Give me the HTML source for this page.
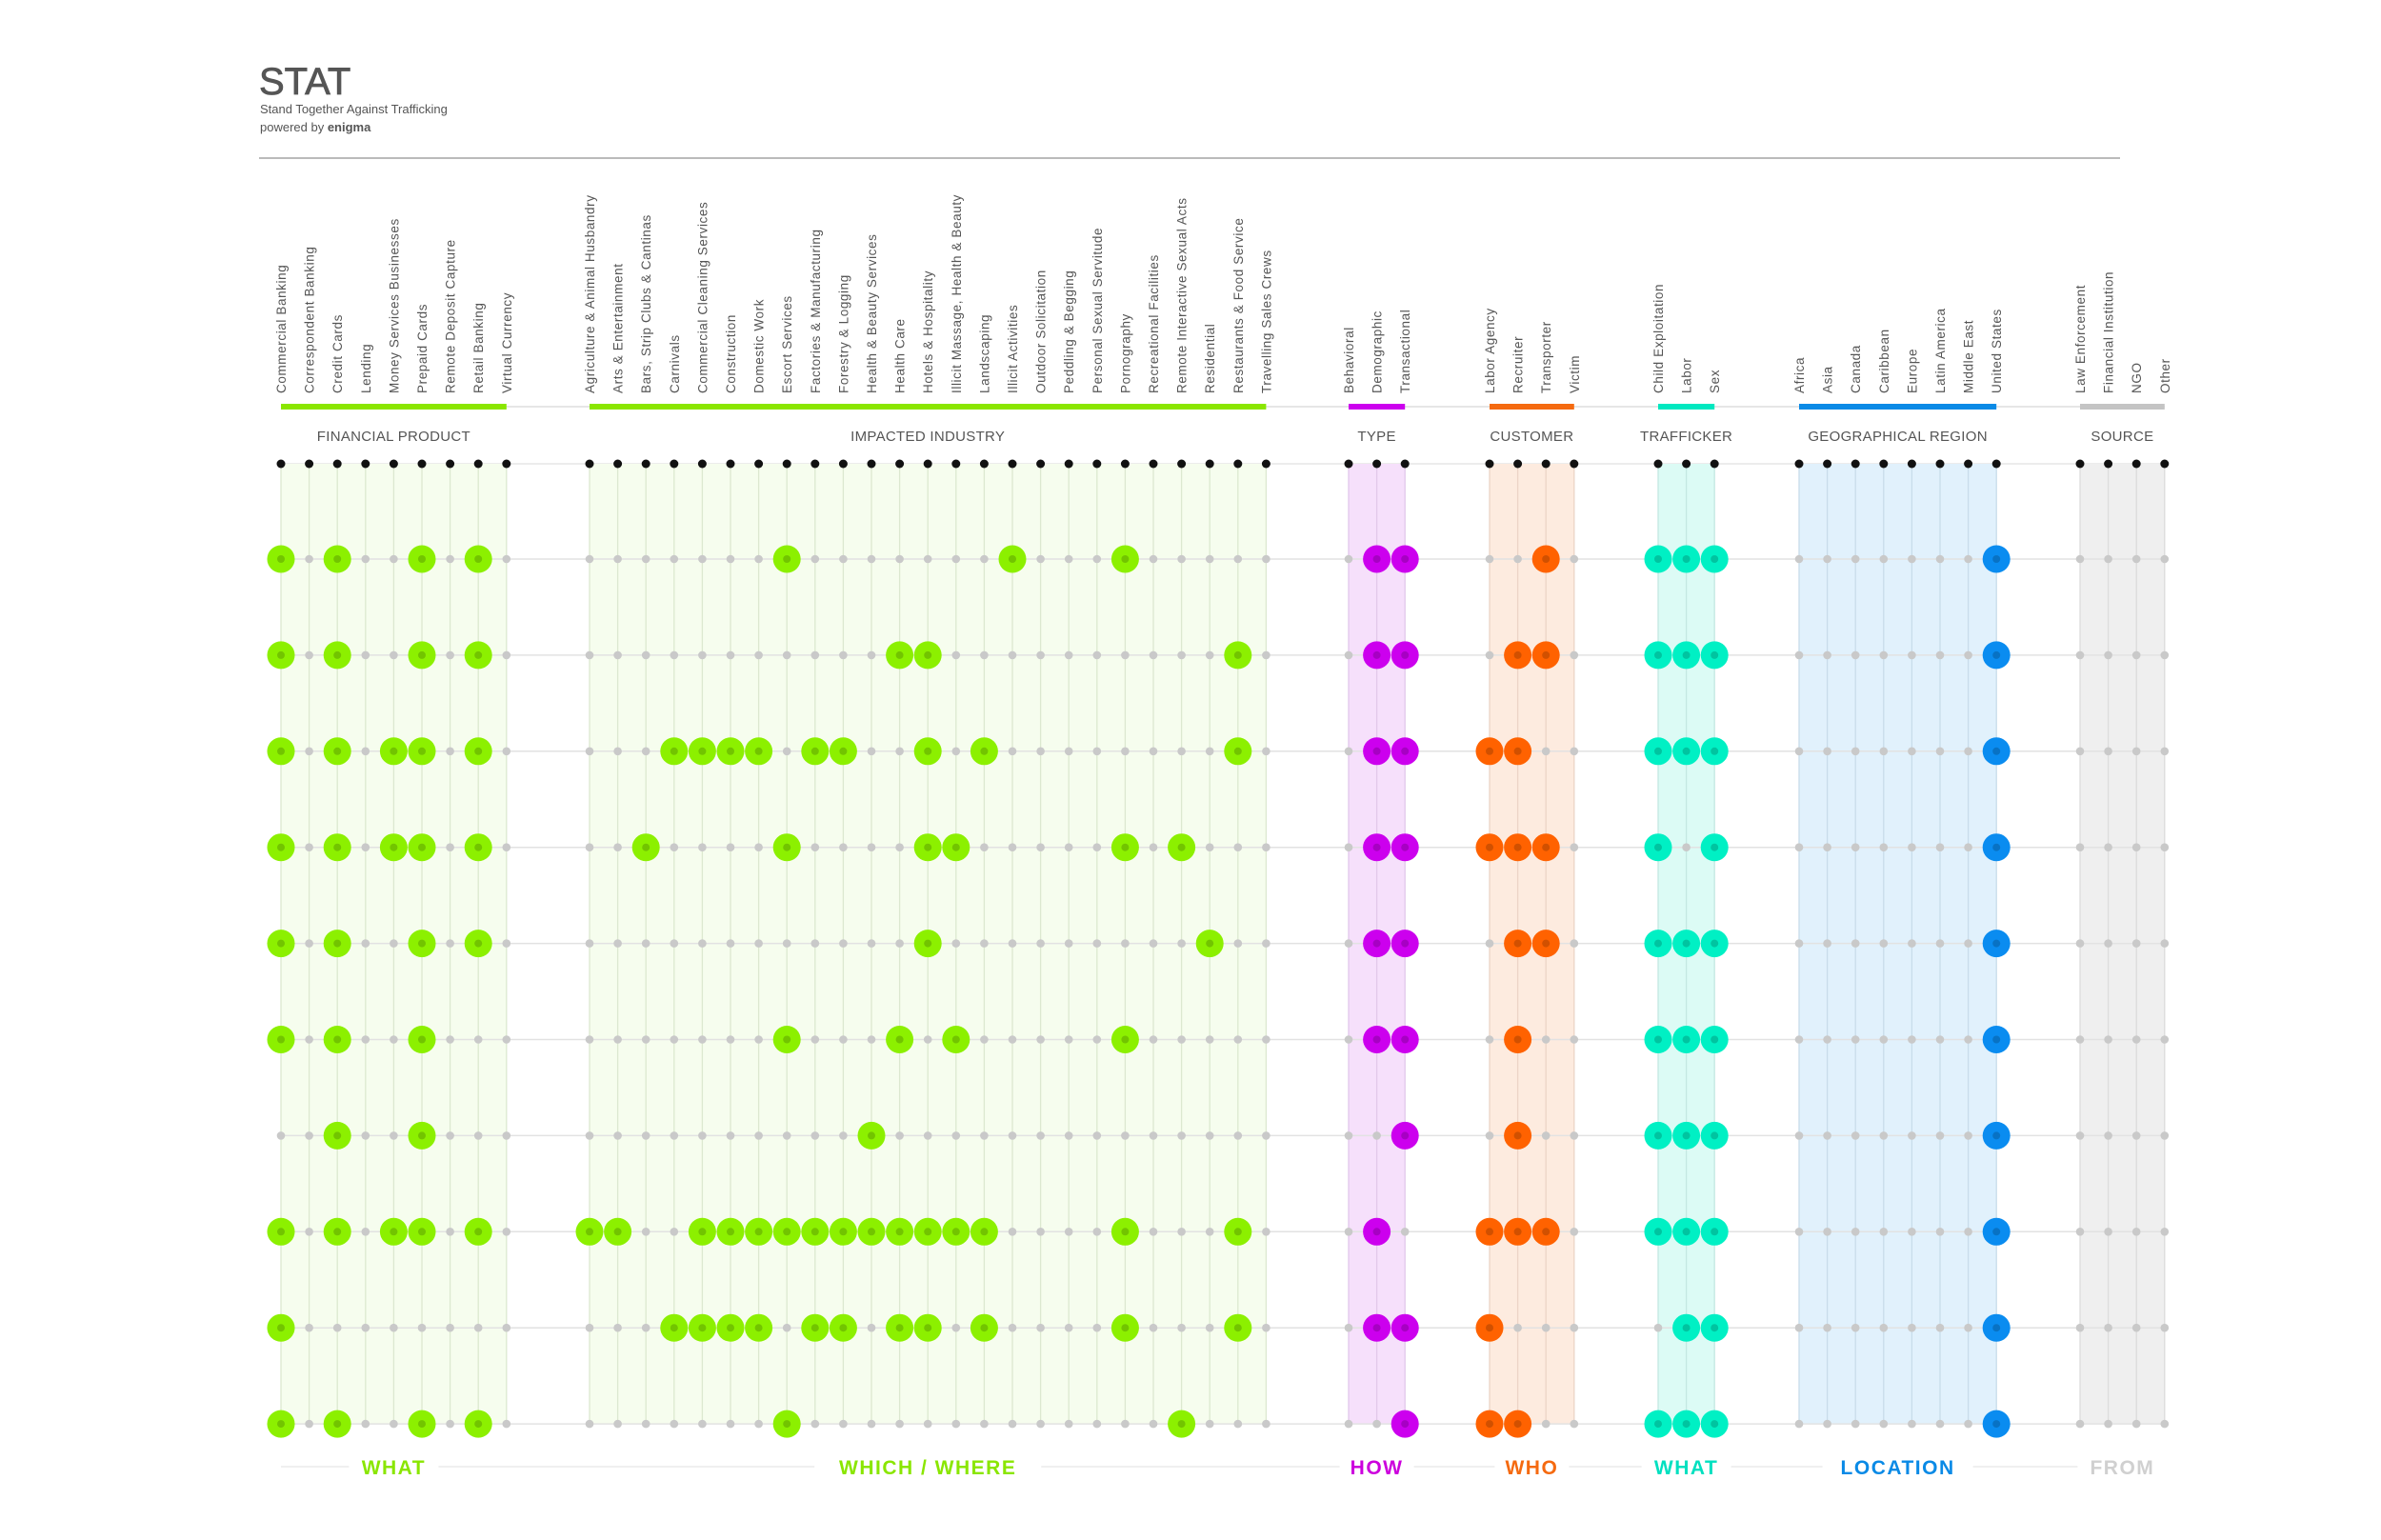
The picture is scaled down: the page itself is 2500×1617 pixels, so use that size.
<!DOCTYPE html>
<html><head><meta charset="utf-8"><style>
html,body{margin:0;padding:0;background:#fff;}
svg{display:block;font-family:"Liberation Sans",sans-serif;}
</style></head><body>
<svg id="chart" width="2500" height="1617" viewBox="0 0 2500 1617" xmlns="http://www.w3.org/2000/svg">
<text x="272" y="99" font-size="40" fill="#555" stroke="#555" stroke-width="0.8">STAT</text>
<text x="273" y="119" font-size="13" fill="#555">Stand Together Against Trafficking</text>
<text x="273" y="138" font-size="13" fill="#555">powered by <tspan font-weight="bold">enigma</tspan></text>
<line x1="272" y1="166" x2="2226" y2="166" stroke="#bbb" stroke-width="2"/>
<g id="plot"></g>
</svg>
<script>
const finCats = ["Commercial Banking","Correspondent Banking","Credit Cards","Lending","Money Services Businesses","Prepaid Cards","Remote Deposit Capture","Retail Banking","Virtual Currency"];
const indCats = ["Agriculture & Animal Husbandry","Arts & Entertainment","Bars, Strip Clubs & Cantinas","Carnivals","Commercial Cleaning Services","Construction","Domestic Work","Escort Services","Factories & Manufacturing","Forestry & Logging","Health & Beauty Services","Health Care","Hotels & Hospitality","Illicit Massage, Health & Beauty","Landscaping","Illicit Activities","Outdoor Solicitation","Peddling & Begging","Personal Sexual Servitude","Pornography","Recreational Facilities","Remote Interactive Sexual Acts","Residential","Restaurants & Food Service","Travelling Sales Crews"];
const typeCats = ["Behavioral","Demographic","Transactional"];
const custCats = ["Labor Agency","Recruiter","Transporter","Victim"];
const trafCats = ["Child Exploitation","Labor","Sex"];
const geoCats = ["Africa","Asia","Canada","Caribbean","Europe","Latin America","Middle East","United States"];
const srcCats = ["Law Enforcement","Financial Institution","NGO","Other"];

const groupTitles = ["FINANCIAL PRODUCT","IMPACTED INDUSTRY","TYPE","CUSTOMER","TRAFFICKER","GEOGRAPHICAL REGION","SOURCE"];
const bottomLabels = ["WHAT","WHICH / WHERE","HOW","WHO","WHAT","LOCATION","FROM"];

const finRows = ["101001010","101001010","101011010","101011010","101001010","101001000","001001000","101011010","100000000","101001010"];
const indRows = [
 "0000000100000001000100000",
 "0000000000011000000000010",
 "0001111011001010000000010",
 "0010000100001100000101000",
 "0000000000001000000000100",
 "0000000100010100000100000",
 "0000000000100000000000000",
 "1100111111111110000100010",
 "0001111011011010000100010",
 "0000000100000000000001000"];
const typeRows = ["011","011","011","011","011","011","001","010","011","001"];
const custRows = ["0010","0110","1100","1110","0110","0100","0100","1110","1000","1100"];
const trafRows = ["111","111","111","101","111","111","111","111","011","111"];
const geoRows = ["00000001","00000001","00000001","00000001","00000001","00000001","00000001","00000001","00000001","00000001"];
const srcRows = ["0000","0000","0000","0000","0000","0000","0000","0000","0000","0000"];

const NS = "http://www.w3.org/2000/svg";
const plot = document.getElementById("plot");
function mk(tag, attrs, parent){ const e=document.createElementNS(NS,tag); for(const k in attrs) e.setAttribute(k,attrs[k]); (parent||plot).appendChild(e); return e; }

const STEP = 29.6;
const groups = [
 {cats:finCats, rows:finRows, x0:295, color:"#8cf000", band:"#f6fdee", vline:"#dce8d0", bar:"#8ae600", label:"#8ae600"},
 {cats:indCats, rows:indRows, x0:619, color:"#8cf000", band:"#f6fdee", vline:"#dce8d0", bar:"#8ae600", label:"#8ae600"},
 {cats:typeCats, rows:typeRows, x0:1416, color:"#cc00ee", band:"#f6e0fb", vline:"#e2c8ea", bar:"#cc00ee", label:"#cc00dd"},
 {cats:custCats, rows:custRows, x0:1564, color:"#ff6200", band:"#fdebdf", vline:"#ecd4c6", bar:"#f56a10", label:"#f56a10"},
 {cats:trafCats, rows:trafRows, x0:1741, color:"#00f0c4", band:"#dcfbf5", vline:"#c4e8e2", bar:"#00e8c0", label:"#00e0c0"},
 {cats:geoCats, rows:geoRows, x0:1889, color:"#0a8cf0", band:"#e1f1fc", vline:"#c8dcea", bar:"#0a8ae6", label:"#0a8ae6"},
 {cats:srcCats, rows:srcRows, x0:2184, color:"#c0c0c0", band:"#efefef", vline:"#dcdcdc", bar:"#c4c4c4", label:"#d0d0d0"}
];
const ROW0 = 587, ROWSTEP = 100.9, TOPDOT = 487, BARY = 427;
function xScale(g, i){ return g.x0 + i*STEP; }
function yScale(r){ return ROW0 + r*ROWSTEP; }
const nRows = finRows.length;
const xMin = 295, xMax = xScale(groups[6], srcCats.length-1);

const bl = mk("line",{x1:xMin,y1:BARY,x2:xMax,y2:BARY,stroke:"#e6e6e6","stroke-width":2});


const tl = mk("line",{x1:xMin,y1:TOPDOT,x2:xMax,y2:TOPDOT,stroke:"#e6e6e6","stroke-width":1.5});



groups.forEach((g, gi) => {
  const xa = xScale(g,0), xb = xScale(g,g.cats.length-1);
  const band = mk("rect",{x:xa,y:TOPDOT,width:xb-xa,height:yScale(nRows-1)-TOPDOT,fill:g.band});
  
  
  const bar = mk("rect",{x:xa,y:BARY-3,width:xb-xa,height:6,fill:g.bar});
  
  
  const gt = mk("text",{x:(xa+xb)/2,y:BARY+36,"text-anchor":"middle","font-size":15,fill:"#555","letter-spacing":"0.3"});
  gt.textContent = groupTitles[gi];
  
  
  g.cats.forEach((c, i) => {
    const x = xScale(g,i);
    const vl = mk("line",{x1:x,y1:TOPDOT,x2:x,y2:yScale(nRows-1),stroke:g.vline,"stroke-width":1.3});
    
    
    const t = mk("text",{transform:`translate(${x+5},413) rotate(-90)`,"font-size":13.5,fill:"#555","letter-spacing":"0.6"});
    t.textContent = c;
    
    
    const d = mk("circle",{cx:x,cy:TOPDOT,r:4.5,fill:"#111"});
    
    
  });
});

for (let r=0; r<nRows; r++){
  const y = yScale(r);
  const rl = mk("line",{x1:xMin,y1:y,x2:xMax,y2:y,stroke:"#e2e2e2","stroke-width":1.5});
  
  
  groups.forEach(g => {
    const flags = g.rows[r];
    for (let i=0;i<g.cats.length;i++){
      const x = xScale(g,i);
      if (flags[i]==="1"){
        const c = mk("circle",{cx:x,cy:y,r:14.5,fill:g.color});
        
        
        const ci = mk("circle",{cx:x,cy:y,r:4,fill:"rgba(0,0,0,0.18)"});
        
        
      } else {
        const c = mk("circle",{cx:x,cy:y,r:4.3,fill:"#c9c9c9"});
        
        
      }
    }
  });
}

const BY = 1540;
const bline = mk("line",{x1:xMin,y1:BY,x2:xMax,y2:BY,stroke:"#ececec","stroke-width":1.5});


groups.forEach((g, gi) => {
  const xa = xScale(g,0), xb = xScale(g,g.cats.length-1);
  const cx = (xa+xb)/2;
  const w = bottomLabels[gi].length*16 + 30;
  const bg = mk("rect",{x:cx-w/2,y:BY-12,width:w,height:24,fill:"#fff"});
  
  
  const t = mk("text",{x:cx,y:BY+8,"text-anchor":"middle","font-size":21,"font-weight":"bold",fill:g.label,"letter-spacing":"1.5"});
  t.textContent = bottomLabels[gi];
  
  
});
</script>
</body></html>
